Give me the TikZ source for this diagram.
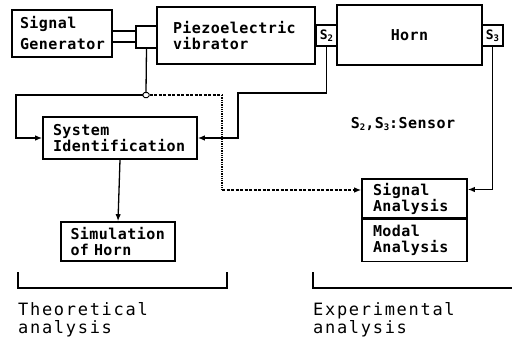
\documentclass[tikz,border=0pt]{standalone}
\usepackage{fontspec}
\usetikzlibrary{arrows.meta}
\newfontfamily\boxfont[LetterSpace=3]{DejaVu Sans Mono}
\newfontfamily\capfont[LetterSpace=10]{DejaVu Sans Mono}
\newcommand{\lowidx}[1]{\raisebox{-2.5pt}{\fontsize{9}{9}\selectfont #1}}
\tikzset{
  blk/.style={draw,line width=1.6pt,inner ysep=0pt,align=left,
              font=\boxfont\bfseries\fontsize{15}{16}\selectfont},
  sens/.style={draw,line width=1.3pt,minimum width=21pt,minimum height=21pt,inner sep=0pt,
              font=\boxfont\bfseries\fontsize{13}{13}\selectfont},
  conn/.style={line width=1.3pt},
  arr/.style={conn,-{Latex[length=7pt,width=5.5pt]}},
  lbl/.style={inner sep=0pt,align=left,font=\capfont\fontsize{17}{18}\selectfont},
}
\begin{document}
\begin{tikzpicture}[x=1pt,y=-1pt]
  \useasboundingbox (0,0) rectangle (516,345);
  % top row: source, coupler, vibrator, sensors and horn
  \node[blk,text width=84pt,inner xsep=8pt,minimum height=47pt,
        font=\boxfont\bfseries\fontsize{15}{21}\selectfont] (sg) at (62,33.5) {Signal\\Generator};
  \node[draw,line width=1.3pt,minimum width=21pt,minimum height=22pt,inner sep=0pt] (cpl) at (146.5,37) {};
  \node[blk,text width=126pt,inner xsep=16pt,minimum height=57pt] (pz) at (236,35.5) {Piezoelectric\\vibrator};
  \node[sens] (s2) at (326.5,35.5) {S\lowidx{2}};
  \node[blk,minimum width=145pt,minimum height=60pt,align=center] (horn) at (409.5,35) {Horn};
  \node[sens] (s3) at (492.5,35.5) {S\lowidx{3}};
  \node[blk,text width=134pt,inner xsep=10pt,minimum height=42pt] (sysid) at (120,138) {System\\Identification};
  \node[blk,text width=95pt,inner xsep=9.5pt,minimum height=39pt] (sim) at (118,241.5) {Simulation\\of Horn};
  \node[blk,text width=83pt,inner xsep=11pt,minimum height=39pt] (sig) at (414.5,198.5) {Signal\\Analysis};
  \node[blk,text width=83pt,inner xsep=11pt,minimum height=42pt,anchor=north] (modal) at (sig.south) {Modal\\Analysis};
  \node[font=\boxfont\bfseries\fontsize{15}{16}\selectfont] (key) at (403,124) {S\lowidx{2},S\lowidx{3}:Sensor};
  \node[draw,line width=1pt,fill=white,rounded corners=1.5pt,minimum width=6pt,minimum height=5pt,inner sep=0pt] (jn) at (146,95) {};
  \coordinate (lft) at (16,95);
  \coordinate (dtop) at (222,95);
  \coordinate (dbot) at (222,190);
  \coordinate (s2k) at (238,93);
  \coordinate (cpu) at ([yshift=6pt]cpl.west);
  \coordinate (cpd) at ([yshift=-5pt]cpl.west);
  \draw[line width=2.2pt] (cpu) -- (cpu -| sg.east);
  \draw[line width=2.2pt] (cpd) -- (cpd -| sg.east);
  \draw[conn] (cpl.south) -- (jn.north);
  \draw[arr] (jn.west) -- (lft) |- (sysid.west);
  \draw[conn,dash pattern=on 3pt off 1.5pt] (jn.east) -- (dtop);
  \draw[conn,densely dotted] (dtop) -- (dbot);
  \draw[arr,dash pattern=on 3pt off 1.5pt] (dbot) -- (dbot -| sig.west);
  \draw[arr] (s2.south) |- (s2k) |- (sysid.east);
  \draw[arr] (sysid.south) -- (sim.north);
  \draw[arr] (s3.south) |- ([yshift=9pt]sig.east);
  % brackets
  \draw[line width=1.6pt] (18,272) -- (18,288) -- (227,288) -- (227,272);
  \draw[line width=1.6pt] (313,272) -- (313,288) -- (512,288);
  \node[lbl,anchor=north west] (theo) at (18,302) {Theoretical\\analysis};
  \node[lbl,anchor=north west] (expe) at (313,302) {Experimental\\analysis};
\end{tikzpicture}
\end{document}
